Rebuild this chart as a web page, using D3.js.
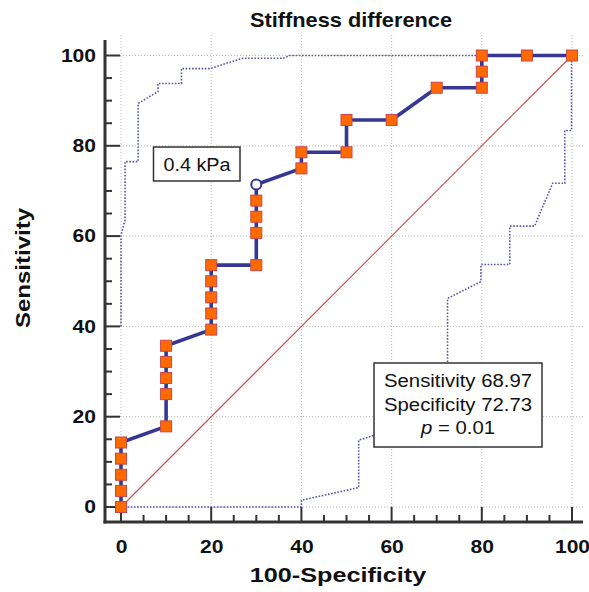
<!DOCTYPE html>
<html><head><meta charset="utf-8">
<script src="https://cdn.jsdelivr.net/npm/d3@7"></script>
<style>body{margin:0;background:#fff}text{font-family:"Liberation Sans",Arial,sans-serif}</style>
</head><body>
<svg id="c" width="589" height="592"></svg>
<script>
// ROC points (100-Specificity, Sensitivity)
const fpr  = [0,0,0,0,0, 10,10,10,10,10, 20,20,20,20,20, 30,30,30,30,30, 40,40, 50,50, 60, 70, 80,80,80, 90, 100];
const sens = [0,3.57,7.14,10.71,14.29, 17.86,25,28.57,32.14,35.71, 39.29,42.86,46.43,50,53.57, 53.57,60.71,64.29,67.86,71.43, 75,78.57, 78.57,85.71, 85.71, 92.86, 92.86,96.43,100, 100, 100];
const criterionIndex = 19; // open circle at (30, 71.43)
// Confidence bounds
const upperX = [0,0,0.9,0.9,3.8,3.8,8.2,8.2,13.4,13.4,19.7,27,36,37.4,100];
const upperY = [40,60.2,63.6,76.5,76.5,89.4,92,93.8,93.8,97.1,97.1,99.4,99.4,100,100];
const lowerX = [0,40,40,52.7,52.7,56.2,72.4,72.4,79.8,79.8,86.2,86.2,91.7,95.7,98.4,98.4,99.9,99.9];
const lowerY = [0,0,1.5,4.3,14.8,15.9,17,46.2,49.9,53.7,53.7,62.2,62.2,71.7,71.7,83.4,83.4,100];
const ticks = [0,20,40,60,80,100];
const minorTicks = d3.range(0,101,5);
const title = "Stiffness difference";
const xLabel = "100-Specificity";
const yLabel = "Sensitivity";
const cutLabel = "0.4 kPa";
const statLines = ["Sensitivity 68.97","Specificity 72.73"];
const pValue = "0.01";

const svg = d3.select("#c");
const x = d3.scaleLinear().domain([0,100]).range([121,572]);
const y = d3.scaleLinear().domain([0,100]).range([507,55.5]);
const axisX = 105, axisY = 522;

// helper: text with horizontal stretch in its own frame
function stext(parent, tx, ty, rot, sx, str, size, weight, anchor){
  const t = parent.append("text")
    .attr("transform",`translate(${tx},${ty})${rot?` rotate(${rot})`:""} scale(${sx},1)`)
    .attr("text-anchor",anchor||"middle").attr("font-size",size).attr("fill","#111");
  if (weight) t.attr("font-weight",weight);
  if (str!==null) t.text(str);
  return t;
}

// grid
const g = svg.append("g");
ticks.forEach(t=>{
  g.append("line").attr("x1",x(t)).attr("x2",x(t)).attr("y1",35).attr("y2",axisY)
   .attr("stroke","#b8b8b8").attr("stroke-width",1).attr("stroke-dasharray","1,2");
  g.append("line").attr("x1",axisX).attr("x2",585).attr("y1",y(t)).attr("y2",y(t))
   .attr("stroke","#b8b8b8").attr("stroke-width",1).attr("stroke-dasharray","1,2");
});

// diagonal
svg.append("line").attr("x1",x(0)).attr("y1",y(0)).attr("x2",x(100)).attr("y2",y(100))
  .attr("stroke","#d04848").attr("stroke-width",1.1);

// CI bounds
const line = d3.line().x(d=>x(d[0])).y(d=>y(d[1]));
svg.append("path").datum(upperX.map((v,i)=>[v,upperY[i]])).attr("d",line)
  .attr("fill","none").attr("stroke","#5656a8").attr("stroke-width",1.6).attr("stroke-dasharray","1.6,1.6");
svg.append("path").datum(lowerX.map((v,i)=>[v,lowerY[i]])).attr("d",line)
  .attr("fill","none").attr("stroke","#5656a8").attr("stroke-width",1.6).attr("stroke-dasharray","1.6,1.6");

// axes
const yAxis = d3.axisLeft(y).tickValues(ticks).tickSize(0).tickPadding(0).tickFormat(d3.format("d"));
const xAxis = d3.axisBottom(x).tickValues(ticks).tickSize(0).tickPadding(0).tickFormat(d3.format("d"));
minorTicks.forEach(t=>{
  const maj = t%20===0;
  svg.append("line").attr("x1",axisX).attr("x2",axisX+(maj?15:7)).attr("y1",y(t)).attr("y2",y(t))
    .attr("stroke","#333").attr("stroke-width",2);
  svg.append("line").attr("y1",axisY).attr("y2",axisY-(maj?15:7)).attr("x1",x(t)).attr("x2",x(t))
    .attr("stroke","#333").attr("stroke-width",2);
});
svg.append("line").attr("x1",axisX).attr("x2",axisX).attr("y1",40).attr("y2",axisY+1.5).attr("stroke","#333").attr("stroke-width",3);
svg.append("line").attr("x1",axisX-1.5).attr("x2",583).attr("y1",axisY).attr("y2",axisY).attr("stroke","#333").attr("stroke-width",3);

const ya = svg.append("g").attr("transform",`translate(${axisX-9},0)`).call(yAxis);
ya.select(".domain").remove();
ya.selectAll("text").attr("x",0).attr("font-size",18).attr("font-weight","bold").attr("fill","#111")
  .attr("transform","scale(1.17,1)")
  .attr("font-family","'Liberation Sans',Arial,sans-serif");
const xa = svg.append("g").attr("transform",`translate(0,${axisY+18})`).call(xAxis);
xa.select(".domain").remove();
xa.selectAll("text").attr("y",0).attr("font-size",18).attr("font-weight","bold").attr("fill","#111")
  .attr("transform","scale(1.17,1)")
  .attr("font-family","'Liberation Sans',Arial,sans-serif");

// ROC curve
const pts = fpr.map((v,i)=>[v,sens[i]]);
svg.append("path").datum(pts).attr("d",line).attr("fill","none")
  .attr("stroke","#363694").attr("stroke-width",3.6).attr("stroke-linejoin","round");
const ms = 11;
svg.selectAll("rect.m").data(pts.filter((d,i)=>i!==criterionIndex)).enter().append("rect")
  .attr("x",d=>x(d[0])-ms/2).attr("y",d=>y(d[1])-ms/2).attr("width",ms).attr("height",ms)
  .attr("fill","#ff6a00").attr("stroke","#c8484a").attr("stroke-width",1);
svg.append("circle").attr("cx",x(fpr[criterionIndex])).attr("cy",y(sens[criterionIndex])).attr("r",5)
  .attr("fill","#fff").attr("stroke","#363694").attr("stroke-width",2);

// cutoff label box
svg.append("rect").attr("x",153.5).attr("y",147).attr("width",86.5).attr("height",34)
  .attr("fill","#fff").attr("stroke","#333").attr("stroke-width",1.5);
stext(svg,197,171,0,1.1,cutLabel,18,null,"middle");

// stats box
svg.append("rect").attr("x",374).attr("y",363).attr("width",168).attr("height",84)
  .attr("fill","#fff").attr("stroke","#333").attr("stroke-width",1.5);
statLines.forEach((s,i)=>stext(svg,458,387+i*23.5,0,1.13,s,18,null,"middle"));
const pl = stext(svg,458,434,0,1.13,null,18,null,"middle");
pl.append("tspan").attr("font-style","italic").text("p");
pl.append("tspan").text(" = "+pValue);

// titles
stext(svg,351,27,0,1.09,title,20,"bold","middle");
stext(svg,338,582,0,1.26,xLabel,20,"bold","middle");
stext(svg,30,268,-90,1.2,yLabel,20,"bold","middle");
</script>
</body></html>
